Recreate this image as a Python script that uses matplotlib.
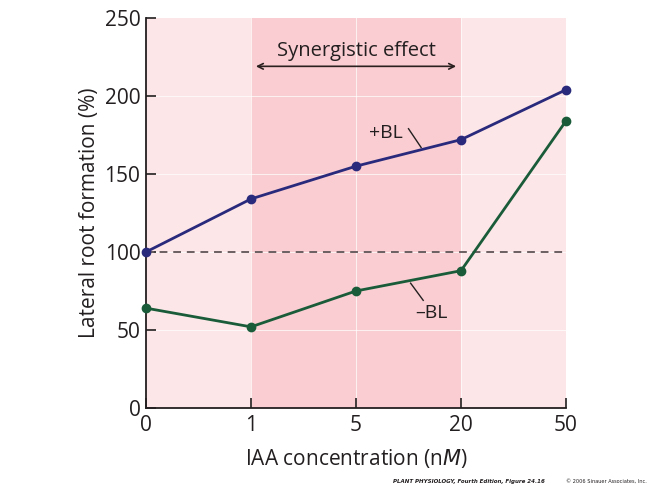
import matplotlib
matplotlib.use("Agg")
import matplotlib.pyplot as plt

# data
conc_labels = ["0", "1", "5", "20", "50"]
plus_bl = [100, 134, 155, 172, 204]
minus_bl = [64, 52, 75, 88, 184]
y_ticks = [0, 50, 100, 150, 200, 250]

plt.rcParams["font.family"] = ["Open Sans", "DejaVu Sans"]

fig = plt.figure(figsize=(6.6, 4.95), dpi=100)
ax = fig.add_axes([0.2212, 0.1758, 0.6364, 0.7879])
x = list(range(len(conc_labels)))

# backgrounds
ax.set_facecolor("#fde6e7")
ax.axvspan(1, 3, color="#f9cdd1", zorder=0, lw=0)
for yv in y_ticks[1:-1]:
    ax.axhline(yv, color="white", lw=0.8, alpha=0.7, zorder=1)
for xv in x[1:-1]:
    ax.axvline(xv, color="white", lw=0.8, alpha=0.7, zorder=1)

ax.axhline(100, color="#6b5f62", lw=1.4, ls=(0, (4, 3)), zorder=2)

ax.plot(x, plus_bl, color="#2a2a7c", lw=2, marker="o", ms=6, zorder=3, clip_on=False)
ax.plot(x, minus_bl, color="#1a5c3a", lw=2, marker="o", ms=6, zorder=3, clip_on=False)

# annotations
ax.annotate("", xy=(1.02, 219), xytext=(2.98, 219),
            arrowprops=dict(arrowstyle="<->", color="#2a2020", lw=1.2))
ax.text(2, 229, "Synergistic effect", ha="center", va="center", fontsize=14.5, color="#231f20")
ax.text(2.28, 176, "+BL", ha="center", va="center", fontsize=14, color="#231f20")
ax.plot([2.5, 2.62], [179, 167], color="#231f20", lw=1)
ax.text(2.72, 61, "\u2013BL", ha="center", va="center", fontsize=14, color="#231f20")
ax.plot([2.52, 2.64], [80, 69], color="#231f20", lw=1)

ax.set_xlim(0, 4)
ax.set_ylim(0, 250)
ax.set_xticks(x)
ax.set_xticklabels(conc_labels)
ax.set_yticks(y_ticks)
ax.tick_params(direction="in", length=7, width=1.2, labelsize=15, colors="#231f20")
ax.tick_params(axis="x", pad=5)
ax.tick_params(axis="y", pad=4)
for s in ["top", "right"]:
    ax.spines[s].set_visible(False)
for s in ["left", "bottom"]:
    ax.spines[s].set_linewidth(1.3)
    ax.spines[s].set_color("#231f20")

ax.set_xlabel("IAA concentration (n$\\it{M}$)", fontsize=15, color="#231f20", labelpad=8)
ax.set_ylabel("Lateral root formation (%)", fontsize=15, color="#231f20", labelpad=3)

fig.text(0.595, 0.024, "PLANT PHYSIOLOGY, Fourth Edition, Figure 24.16",
         fontsize=4, style="italic", weight="bold", color="#231f20", family="DejaVu Sans")
fig.text(0.858, 0.024, "\u00a9 2006 Sinauer Associates, Inc.",
         fontsize=3.6, color="#231f20", family="DejaVu Sans")

fig.savefig("out.png", dpi=100, facecolor="white")
